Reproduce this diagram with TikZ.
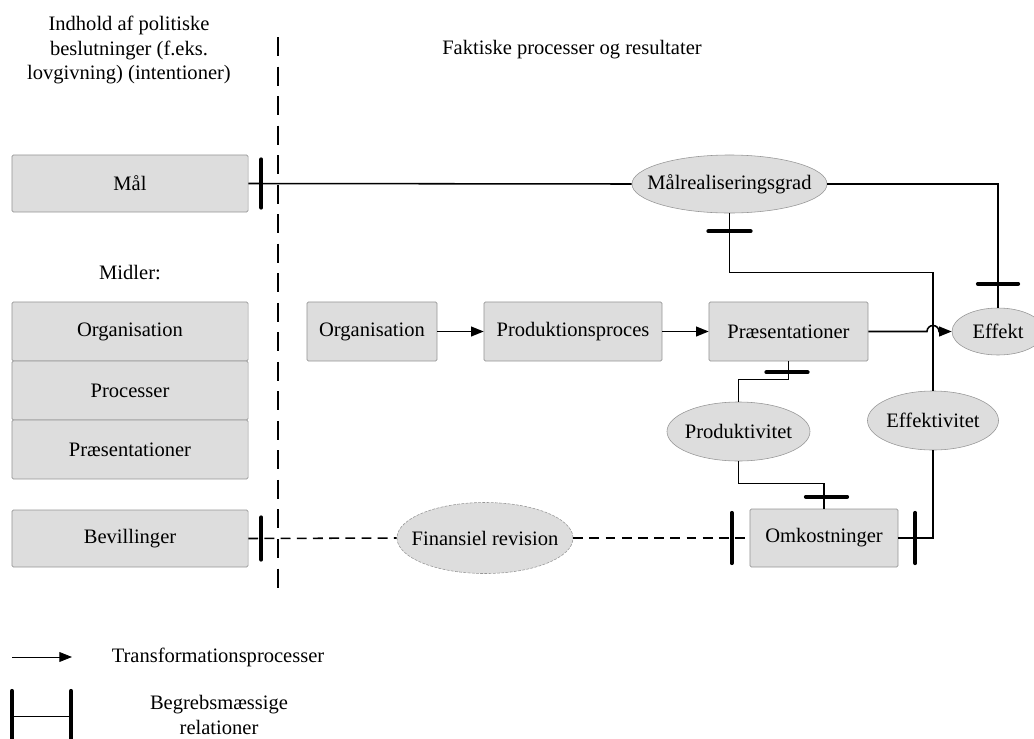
\documentclass[tikz,border=0pt]{standalone}
\usepackage{fontspec}
\setmainfont{Liberation Serif}
\usetikzlibrary{shapes.geometric,arrows.meta,calc}
\definecolor{boxgray}{RGB}{221,221,221}
\definecolor{edgegray}{RGB}{150,150,150}
\newcommand{\otext}[1]{\makebox[0pt]{#1}}

\begin{document}
\begin{tikzpicture}[x=0.025cm, y=0.025cm,
    font=\fontsize{14.6}{17.4}\selectfont,
    box/.style={draw=edgegray, fill=boxgray, rounded corners=1pt, inner sep=0pt, minimum height=1.475cm},
    oval/.style={ellipse, draw=edgegray, fill=boxgray, inner sep=0pt},
    link/.style={line width=1.1pt},
    flow/.style={line width=1.1pt, -{Triangle[length=9pt,width=7pt]}},
    relbar/.style={line width=3pt, line cap=round},
    money/.style={line width=1.1pt, dash pattern=on 7pt off 4.5pt}]
    \useasboundingbox (0,0) rectangle (1034,-738);
    % Headings
    \node[align=center] (intent) at (129,-50) {Indhold af politiske\\beslutninger (f.eks.\\lovgivning) (intentioner)};
    \node (facts) at (572,-50) {Faktiske processer og resultater};
    % Dashed border between intentions and facts
    \coordinate (septop) at (278,-37);
    \coordinate (sepbot) at (278,-597);
    \draw[line width=1.6pt, dash pattern=on 13.5pt off 7.5pt] (septop) -- (sepbot);

    % Left column
    \node[box, minimum width=5.9cm, minimum height=1.425cm] (maal) at (130,-183.5) {Mål};
    \node (midler) at (130,-273) {Midler:};
    \node[box, minimum width=5.9cm] (orgL) at (130,-331.5) {Organisation};
    \node[box, minimum width=5.9cm] (procL) at (130,-390.5) {Processer};
    \node[box, minimum width=5.9cm] (praesL) at (130,-449.5) {Præsentationer};
    \node[box, minimum width=5.9cm, minimum height=1.425cm] (bev) at (130,-538.5) {Bevillinger};

    % Process chain
    \node[box, minimum width=3.25cm] (orgR) at (372,-331.5) {Organisation};
    \node[box, minimum width=4.45cm] (prod) at (573,-331.5) {Produktionsproces};
    \node[box, minimum width=3.975cm] (praesR) at (788.5,-331.5) {Præsentationer};
    \node[oval, minimum width=2.3cm, minimum height=1.175cm] (eff) at (998,-331.5) {\otext{Effekt}};

    % Measures
    \node[oval, minimum width=4.875cm, minimum height=1.45cm] (maalgrad) at (729.5,-184) {\otext{Målrealiseringsgrad}};
    \node[oval, minimum width=3.575cm, minimum height=1.475cm] (produktiv) at (738.5,-431.5) {\otext{Produktivitet}};
    \node[oval, minimum width=3.275cm, minimum height=1.475cm] (effektiv) at (933,-420.5) {\otext{Effektivitet}};
    \node[box, minimum width=3.7cm, minimum height=1.45cm] (omk) at (824,-538) {Omkostninger};
    \node[oval, dash pattern=on 2pt off 1pt, minimum width=4.4cm, minimum height=1.775cm] (finrev) at (485,-538) {\otext{Finansiel revision}};

    % Goal attainment
    \draw[link] (maal.east) -- (maalgrad.west);
    \draw[link] (maalgrad.east) -| (eff.north);
    \draw[link] (maalgrad.south) -- ++(0,-59) -| (effektiv.north);
    % Transformations
    \draw[flow] (orgR) -- (prod);
    \draw[flow] (prod) -- (praesR);
    \draw[flow] (praesR.east) -- ($(praesR.east -| effektiv.north)+(-6,0)$) arc[start angle=180, end angle=0, radius=6] -- (eff.west);
    % Productivity and efficiency
    \draw[link] (praesR.south) -- ++(0,-18) -| (produktiv.north);
    \draw[link] (produktiv.south) -- ++(0,-22) -| (omk.north);
    \draw[link] (omk.east) -| (effektiv.south);
    % Appropriations
    \draw[money] (bev.east) -- (finrev.west);
    \draw[money] (finrev.east) -- (omk.west);

    % Conceptual relation bars
    \draw[relbar] ([shift={(13,24)}]maal.east) -- ++(0,-48);
    \draw[relbar] ([shift={(-21,-18)}]maalgrad.south) -- ++(42,0);
    \draw[relbar] ([shift={(-20,24)}]eff.north) -- ++(40,0);
    \draw[relbar] ([shift={(-22,-11)}]praesR.south) -- ++(41,0);
    \draw[relbar] ([shift={(-18,12)}]omk.north) -- ++(41,0);
    \draw[relbar] ([shift={(17,25)}]omk.east) -- ++(0,-50);
    \draw[relbar] ([shift={(-18,25)}]omk.west) -- ++(0,-50);
    \draw[relbar] ([shift={(13,21)}]bev.east) -- ++(0,-42);

    % Legend
    \coordinate (arrA) at (12,-657);
    \coordinate (arrB) at (72,-657);
    \draw[flow, line width=0.6pt] (arrA) -- (arrB);
    \node (transleg) at (218,-657) {Transformationsprocesser};
    \coordinate (relA) at (12,-716);
    \coordinate (relB) at (71,-716);
    \draw[line width=0.6pt] (relA) -- (relB);
    \draw[relbar] (12,-691) -- (12,-745);
    \draw[relbar] (71,-691) -- (71,-745);
    \node[align=center] (relleg) at (219,-715) {Begrebsmæssige\\relationer};
\end{tikzpicture}
\end{document}
